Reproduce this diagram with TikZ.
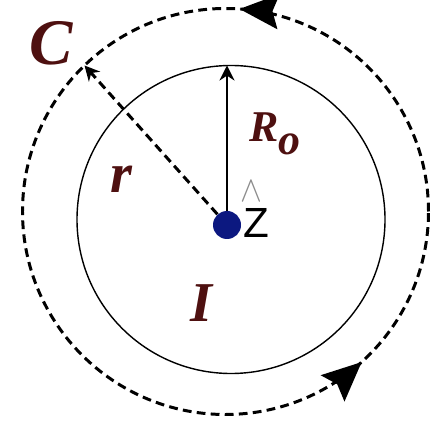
\documentclass[tikz,border=0pt]{standalone}
\usepackage{fontspec}
\setmainfont{Liberation Serif}
\newfontfamily\axisfont{Liberation Sans}
\usepackage{xcolor}
\usepackage{tikz}
\usetikzlibrary{arrows.meta,decorations.markings,positioning,calc}

\definecolor{symbolbrown}{RGB}{78,16,16}
\definecolor{wireblue}{RGB}{12,24,128}

\begin{document}
\begin{tikzpicture}[
        symbol/.style={text=symbolbrown, inner sep=0pt, anchor=base, font=\bfseries\itshape},
        wire/.style={circle, fill=wireblue, minimum size=0.56cm, inner sep=0pt},
        conductor/.style={circle, draw=black, line width=0.8pt, minimum size=6.16cm, inner sep=0pt, outer sep=0pt},
        amperloop/.style={line width=1.7pt, dash pattern=on 5pt off 3pt},
        radiusarrow/.style={-{Stealth[length=0.3cm, width=0.3cm]}, line width=1.3pt},
        looparrow/.style={-{Stealth[length=0.3cm, width=0.3cm]}, amperloop},
        flow/.style={postaction={decorate}, decoration={markings,
            mark=at position 0.239 with {\arrow{Stealth[length=0.78cm, width=0.7cm, inset=0.12cm]}},
            mark=at position 0.867 with {\arrow{Stealth[length=0.78cm, width=0.7cm, inset=0.12cm]}}}}
        ]
        \useasboundingbox (0,0) rectangle (8.72,8.4);

        % Conductor and current
        \node[conductor] (inner) at (4.62,4.01) {};
        \node[wire] (centre) at (4.54,3.90) {};

        % Amperian loop C
        \node[circle, minimum size=8.12cm, inner sep=0pt, outer sep=0pt] (outer) at (4.51,4.17) {};
        \draw[amperloop, flow] (outer.center) circle[radius=4.06cm];

        % Radii
        \coordinate (rtop) at (centre |- inner.north);
        \draw[radiusarrow] (centre) -- (rtop);
        \draw[looparrow] (centre) -- (outer.134);

        % Labels
        \node[symbol, font=\bfseries\itshape\fontsize{37}{40}\selectfont] (clabel) at (1.03,7.10) {C};
        \node[symbol, anchor=base west, font=\bfseries\itshape\fontsize{25}{28}\selectfont] (rolabel) at (4.98,5.56) {R\raisebox{-7pt}{o}};
        \node[symbol, font=\bfseries\itshape\fontsize{32}{36}\selectfont] (rlabel) at (2.42,4.54) {r};
        \node[symbol, font=\bfseries\itshape\fontsize{32}{36}\selectfont] (ilabel) at (4.03,1.96) {I};
        \node[anchor=base, inner sep=0pt, font=\axisfont\fontsize{24}{28}\selectfont] (zlabel) at (5.13,3.64) {Z};
        \node[anchor=south, inner sep=0pt, text=black!45] (zhat) at (5.03,4.37) {\fontsize{22}{24}\selectfont\scalebox{0.9}[1]{$\wedge$}};
    \end{tikzpicture}
\end{document}
